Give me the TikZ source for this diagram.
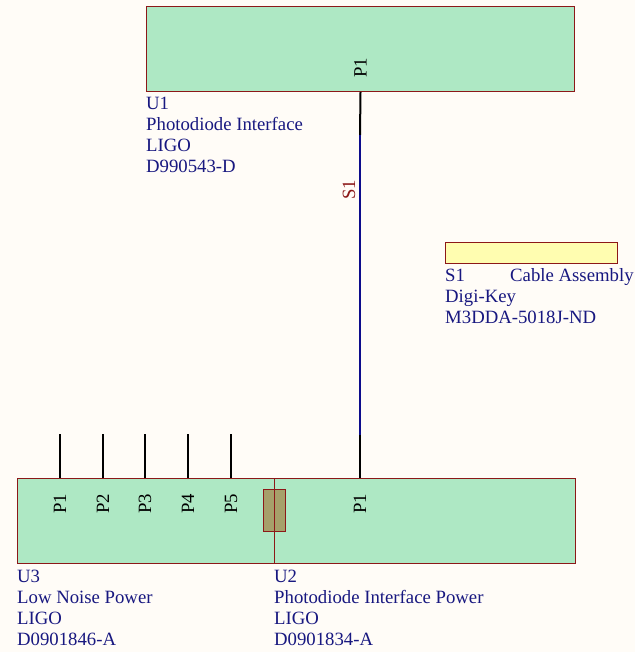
\documentclass[tikz,border=0pt]{standalone}
\usepackage{fontspec}
\setmainfont{Liberation Serif}
\usetikzlibrary{positioning, calc}
\definecolor{sheetbg}{RGB}{255,252,247}
\definecolor{partgreen}{RGB}{174,232,196}
\definecolor{partred}{RGB}{140,24,24}
\definecolor{wireblue}{RGB}{12,12,140}
\definecolor{textblue}{RGB}{24,24,128}
\definecolor{cableyellow}{RGB}{255,253,176}
\definecolor{plugbrown}{RGB}{166,160,106}

\begin{document}
\begin{tikzpicture}[x=1pt, y=-1pt, font=\fontsize{18.75}{21}\selectfont,
  part/.style={draw=partred, fill=partgreen, line width=1pt, inner sep=0pt, anchor=north west, minimum height=85pt},
  info/.style={text=textblue, align=left, anchor=north west, inner sep=0pt},
  pinlabel/.style={rotate=90, inner sep=0pt, text=black},
  pinline/.style={line width=2pt, black},
  wire/.style={line width=2pt, wireblue}]

\useasboundingbox[fill=sheetbg] (0,0) rectangle (635,652);

\node[part, minimum width=428pt] (u1) at (146,6) {};
\node[part, minimum width=257pt] (u3) at (17,478) {};
\node[part, minimum width=301pt] (u2) at (274,478) {};
\node[draw=partred, fill=plugbrown, line width=1pt, inner sep=0pt, anchor=north west, minimum width=22pt, minimum height=42pt] (plug) at (263,489) {};
\draw[partred, line width=1pt] (u2.north west) -- (u2.south west);
\node[draw=partred, fill=cableyellow, line width=1pt, inner sep=0pt, anchor=north west, minimum width=172pt, minimum height=21pt] (s1) at (445,242) {};

\node[info] (u1info) at ($(u1.south west)+(0,5)$) {U1\\Photodiode Interface\\LIGO\\D990543-D};
\node[info] (u3info) at ($(u3.south west)+(0,5.5)$) {U3\\Low Noise Power\\LIGO\\D0901846-A};
\node[info] (u2info) at ($(u2.south west)+(0,5.5)$) {U2\\Photodiode Interface Power\\LIGO\\D0901834-A};
\node[info] (s1info) at ($(s1.south west)+(0,4.5)$) {\makebox[65pt][l]{S1}Cable Assembly\\Digi-Key\\M3DDA-5018J-ND};

\coordinate (w1) at (360,135);
\coordinate (w2) at (360,435);
\draw[pinline] (u1.south) -- (w1);
\draw[wire] (w1) -- (w2);
\draw[pinline] (w2) -- (w2 |- u2.north);
\node[pinlabel] (u1p1) at ($(u1.south)+(0,-24)$) {P1};
\node[pinlabel, text=partred] (s1lbl) at (349,190) {S1};
\node[pinlabel] (u2p1) at (360,504) {P1};

\coordinate (u3t1) at (60,434);
\coordinate (u3t2) at (103,434);
\coordinate (u3t3) at (145,434);
\coordinate (u3t4) at (188,434);
\coordinate (u3t5) at (231,434);
\draw[pinline] (u3t1) -- (u3t1 |- u3.north);
\draw[pinline] (u3t2) -- (u3t2 |- u3.north);
\draw[pinline] (u3t3) -- (u3t3 |- u3.north);
\draw[pinline] (u3t4) -- (u3t4 |- u3.north);
\draw[pinline] (u3t5) -- (u3t5 |- u3.north);
\node[pinlabel] (u3p1) at (60,504) {P1};
\node[pinlabel] (u3p2) at (103,504) {P2};
\node[pinlabel] (u3p3) at (145,504) {P3};
\node[pinlabel] (u3p4) at (188,504) {P4};
\node[pinlabel] (u3p5) at (231,504) {P5};

\end{tikzpicture}
\end{document}
